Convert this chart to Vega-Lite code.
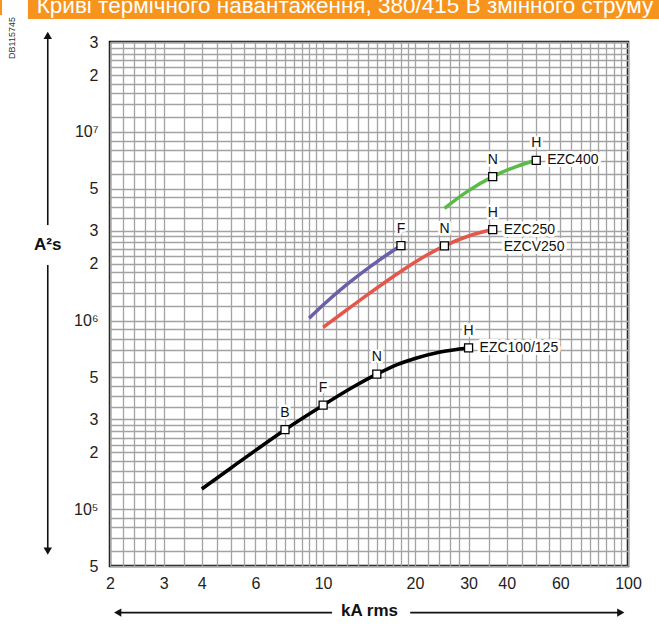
{
  "$schema": "https://vega.github.io/schema/vega-lite/v6.json",
  "width": 518,
  "height": 524,
  "autosize": {"type": "none"},
  "padding": {"left": 110, "top": 42, "right": 31, "bottom": 58},
  "background": "white",
  "config": {
    "font": "Liberation Sans",
    "view": {"stroke": "#111111", "strokeWidth": 2.5}
  },
  "datasets": {
    "curves": [
      {"series": "EZC100/125", "x": 4, "y": 128000},
      {"series": "EZC100/125", "x": 5, "y": 166000},
      {"series": "EZC100/125", "x": 6, "y": 205000},
      {"series": "EZC100/125", "x": 7.5, "y": 264000},
      {"series": "EZC100/125", "x": 10, "y": 356000},
      {"series": "EZC100/125", "x": 12.5, "y": 443000},
      {"series": "EZC100/125", "x": 15, "y": 520000},
      {"series": "EZC100/125", "x": 17.5, "y": 585000},
      {"series": "EZC100/125", "x": 20, "y": 630000},
      {"series": "EZC100/125", "x": 24, "y": 680000},
      {"series": "EZC100/125", "x": 30, "y": 716000},
      {"series": "EZC250 F", "x": 9, "y": 1030000},
      {"series": "EZC250 F", "x": 10, "y": 1210000},
      {"series": "EZC250 F", "x": 12, "y": 1560000},
      {"series": "EZC250 F", "x": 15, "y": 2050000},
      {"series": "EZC250 F", "x": 18, "y": 2500000},
      {"series": "EZC250 N/H", "x": 10, "y": 920000},
      {"series": "EZC250 N/H", "x": 12, "y": 1145000},
      {"series": "EZC250 N/H", "x": 14, "y": 1374000},
      {"series": "EZC250 N/H", "x": 17, "y": 1714000},
      {"series": "EZC250 N/H", "x": 20, "y": 2040000},
      {"series": "EZC250 N/H", "x": 25, "y": 2490000},
      {"series": "EZC250 N/H", "x": 30, "y": 2810000},
      {"series": "EZC250 N/H", "x": 36, "y": 3040000},
      {"series": "EZC400", "x": 25, "y": 3940000},
      {"series": "EZC400", "x": 29.5, "y": 4800000},
      {"series": "EZC400", "x": 36, "y": 5800000},
      {"series": "EZC400", "x": 43, "y": 6560000},
      {"series": "EZC400", "x": 50, "y": 7080000}
    ],
    "markers": [
      {"x": 7.5, "y": 264000, "letter": "B"},
      {"x": 10, "y": 356000, "letter": "F"},
      {"x": 15, "y": 520000, "letter": "N"},
      {"x": 30, "y": 716000, "letter": "H"},
      {"x": 18, "y": 2500000, "letter": "F"},
      {"x": 25, "y": 2490000, "letter": "N"},
      {"x": 36, "y": 3040000, "letter": "H"},
      {"x": 36, "y": 5800000, "letter": "N"},
      {"x": 50, "y": 7080000, "letter": "H"}
    ],
    "labels": [
      {"x": 50, "y": 7080000, "text": "EZC400"},
      {"x": 36, "y": 3040000, "text": "EZC250"},
      {"x": 36, "y": 2460000, "text": "EZCV250"},
      {"x": 30, "y": 716000, "text": "EZC100/125"}
    ],
    "arrows": [
      {"x": 1.25, "y": 32500000, "x2": 1.25, "y2": 3210000},
      {"x": 1.25, "y": 1970000, "x2": 1.25, "y2": 60000},
      {"x": 2.12, "y": 28300, "x2": 10.7, "y2": 28300},
      {"x": 19.3, "y": 28300, "x2": 94.7, "y2": 28300}
    ],
    "heads": [
      {"x": 1.25, "y": 32500000, "dir": "up"},
      {"x": 1.25, "y": 60000, "dir": "down"},
      {"x": 2.12, "y": 28300, "dir": "left"},
      {"x": 94.7, "y": 28300, "dir": "right"}
    ],
    "axistitles": [
      {"x": 1.25, "y": 2520000, "text": "A²s"},
      {"x": 14.2, "y": 29000, "text": "kA rms"}
    ],
    "banner": [
      {"x": 1.076, "x2": 130, "y": 39700000, "y2": 80000000},
      {"x": 0.3, "x2": 0.885, "y": 41700000, "y2": 80000000}
    ],
    "bannertext": [
      {"x": 1.15, "y": 43000000, "text": "Криві термічного навантаження, 380/415 В змінного струму"}
    ],
    "code": [
      {"x": 0.954, "y": 31500000, "text": "DB115745"}
    ]
  },
  "encoding": {
    "x": {
      "field": "x",
      "type": "quantitative",
      "scale": {"type": "log", "domain": [2, 100], "nice": false, "zero": false},
      "axis": {
        "values": [2, 2.2, 2.4, 2.6, 2.8, 3, 3.5, 4, 4.5, 5, 5.5, 6, 6.5, 7, 7.5, 8, 8.5, 9, 9.5, 10, 11, 12, 13, 14, 15, 16, 17, 18, 19, 20, 22, 24, 26, 28, 30, 35, 40, 45, 50, 55, 60, 65, 70, 75, 80, 85, 90, 95, 100],
        "labelExpr": "indexof([2,3,4,6,10,20,30,40,60,100], datum.value) >= 0 ? toString(datum.value) : ''",
        "grid": true,
        "gridColor": "#a3a3a3",
        "gridWidth": 1.3,
        "gridOpacity": 1,
        "ticks": false,
        "domain": false,
        "labelFlush": false,
        "labelOverlap": false,
        "labelBound": false,
        "labelFontSize": 16,
        "labelColor": "#222222",
        "labelPadding": 9,
        "title": null
      }
    },
    "y": {
      "field": "y",
      "type": "quantitative",
      "scale": {"type": "log", "domain": [50000, 30000000], "nice": false, "zero": false},
      "axis": {
        "values": [50000, 60000, 70000, 80000, 90000, 100000, 120000, 140000, 160000, 180000, 200000, 220000, 240000, 260000, 280000, 300000, 350000, 400000, 450000, 500000, 600000, 700000, 800000, 900000, 1000000, 1200000, 1400000, 1600000, 1800000, 2000000, 2200000, 2400000, 2600000, 2800000, 3000000, 3500000, 4000000, 4500000, 5000000, 6000000, 7000000, 8000000, 9000000, 10000000, 12000000, 14000000, 16000000, 18000000, 20000000, 22000000, 24000000, 26000000, 28000000, 30000000],
        "labelExpr": "datum.value == 100000 ? '10⁵' : datum.value == 1000000 ? '10⁶' : datum.value == 10000000 ? '10⁷' : indexof([50000,200000,300000,500000,2000000,3000000,5000000,20000000,30000000], datum.value) >= 0 ? toString(round(datum.value / pow(10, floor(log(datum.value) / LN10 + 0.000001)))) : ''",
        "grid": true,
        "gridColor": "#a3a3a3",
        "gridWidth": 1.3,
        "gridOpacity": 1,
        "ticks": false,
        "domain": false,
        "labelFlush": false,
        "labelOverlap": false,
        "labelBound": false,
        "labelFontSize": 16,
        "labelColor": "#222222",
        "labelPadding": 12,
        "title": null
      }
    }
  },
  "layer": [
    {
      "data": {"name": "curves"},
      "mark": {"type": "line", "strokeWidth": 3.5, "interpolate": "monotone"},
      "encoding": {
        "color": {
          "field": "series",
          "type": "nominal",
          "scale": {"domain": ["EZC100/125", "EZC250 F", "EZC250 N/H", "EZC400"], "range": ["#000000", "#6b5fa9", "#e4574a", "#5bbb47"]},
          "legend": null
        }
      }
    },
    {
      "data": {"name": "markers"},
      "mark": {"type": "point", "shape": "square", "size": 64, "fill": "white", "stroke": "black", "strokeWidth": 1.3, "opacity": 1, "filled": false}
    },
    {
      "data": {"name": "markers"},
      "mark": {"type": "text", "dy": -17, "fontSize": 14, "baseline": "middle", "fill": "white", "stroke": "white", "strokeWidth": 5, "strokeJoin": "round"},
      "encoding": {"text": {"field": "letter"}}
    },
    {
      "data": {"name": "markers"},
      "mark": {"type": "text", "dy": -17, "fontSize": 14, "baseline": "middle", "color": "#111111"},
      "encoding": {"text": {"field": "letter"}}
    },
    {
      "data": {"name": "labels"},
      "mark": {"type": "text", "dx": 11, "align": "left", "fontSize": 14, "baseline": "middle", "fill": "white", "stroke": "white", "strokeWidth": 6, "strokeJoin": "round"},
      "encoding": {"text": {"field": "text"}}
    },
    {
      "data": {"name": "labels"},
      "mark": {"type": "text", "dx": 11, "align": "left", "fontSize": 14, "baseline": "middle", "color": "#111111"},
      "encoding": {"text": {"field": "text"}}
    },
    {
      "data": {"name": "arrows"},
      "mark": {"type": "rule", "color": "#111111", "strokeWidth": 1.6},
      "encoding": {"x2": {"field": "x2"}, "y2": {"field": "y2"}}
    },
    {
      "data": {"name": "heads"},
      "mark": {"type": "point", "filled": true, "size": 70, "color": "#111111", "opacity": 1},
      "encoding": {
        "shape": {
          "field": "dir",
          "type": "nominal",
          "scale": {"domain": ["up", "down", "left", "right"], "range": ["triangle-up", "triangle-down", "triangle-left", "triangle-right"]},
          "legend": null
        }
      }
    },
    {
      "data": {"name": "axistitles"},
      "mark": {"type": "text", "fontSize": 17, "fontWeight": "bold", "baseline": "middle", "color": "#111111"},
      "encoding": {"text": {"field": "text"}}
    },
    {
      "data": {"name": "banner"},
      "mark": {"type": "rect", "color": "#f7941d", "opacity": 1},
      "encoding": {"x2": {"field": "x2"}, "y2": {"field": "y2"}}
    },
    {
      "data": {"name": "bannertext"},
      "mark": {"type": "text", "fontSize": 22.5, "align": "left", "baseline": "alphabetic", "color": "white"},
      "encoding": {"text": {"field": "text"}}
    },
    {
      "data": {"name": "code"},
      "mark": {"type": "text", "fontSize": 9, "angle": 270, "align": "center", "baseline": "middle", "color": "#333333"},
      "encoding": {"text": {"field": "text"}}
    }
  ]
}
